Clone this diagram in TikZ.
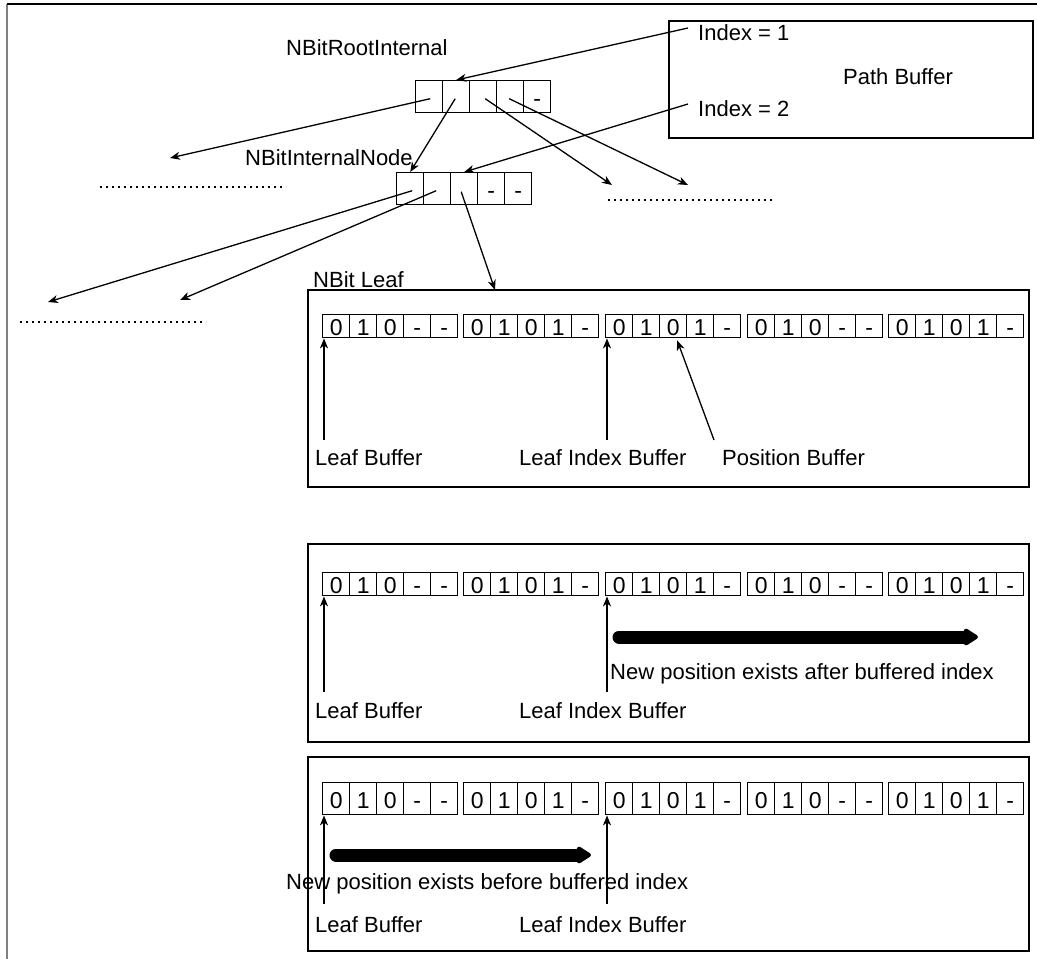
\documentclass[tikz,border=0pt]{standalone}
\usepackage{fontspec}
\setmainfont{Liberation Sans}
\usetikzlibrary{arrows.meta,calc}
\begin{document}
\begin{tikzpicture}[x=1pt,y=-1pt,
  every node/.style={font=\fontsize{22}{25}\selectfont, inner sep=0pt},
  cell/.style={draw, line width=1.4pt, minimum width=27pt, minimum height=#1, anchor=north west, text height=19.5pt, text depth=0pt, font=\fontsize{23}{25}\selectfont},
  cell/.default=23pt,
  lbl/.style={anchor=west},
  thinarrow/.style={line width=1.3pt, -{Stealth[length=10pt,width=8pt,inset=3pt]}},
  frame/.style={draw, line width=1.8pt, anchor=north west},
  bigarrow/.style={line width=13pt, line cap=round, -{Triangle[length=16pt,width=19pt,line width=4pt,round]}},
  dots/.style={line width=1.6pt, dash pattern=on 1.6pt off 4.4pt}
]
\useasboundingbox (0,0) rectangle (1037,959);
% outer frame
\draw[line width=2pt, gray] (7,959) -- (7,4);
\draw[line width=2pt] (7,4) -- (1037,4);

% labels
\node[lbl] (lroot) at (286,48) {NBitRootInternal};
\node[lbl] (lint) at (245,158) {NBitInternalNode};
\node[lbl] (lleaf) at (313,280) {NBit Leaf};

% root internal node
\foreach \i/\t in {1/,2/,3/,4/,5/-}
  \node[cell=32pt] (r\i) at ({415+27*(\i-1)},80) {\t};
% internal node
\foreach \i/\t in {1/,2/,3/,4/-,5/-}
  \node[cell=32pt] (n\i) at ({396+27*(\i-1)},172) {\t};

% path buffer
\node[frame, minimum width=364pt, minimum height=117pt] (pb) at (668,20) {};
\node[lbl] (i1) at (698,33) {Index = 1};
\node (pbt) at (898,77) {Path Buffer};
\node[lbl] (i2) at (698,109) {Index = 2};

% free ends
\coordinate (e1) at (170,158);
\coordinate (e3) at (612,185);
\coordinate (e4) at (688,185);
\coordinate (f1) at (48,302);
\coordinate (f2) at (180,300);
\coordinate (f3) at (495,290);

\draw[thinarrow] ($(i1.west)+(-10,-5)$) -- (r2.north);
\draw[thinarrow] ($(i2.west)+(-10,-5)$) -- (n3.north);
\draw[thinarrow] ($(r1.center)+(1,2)$) -- (e1);
\draw[thinarrow] ($(r2.center)+(-1,2)$) -- (n1.north);
\draw[thinarrow] ($(r3.center)+(2,2)$) -- (e3);
\draw[thinarrow] ($(r4.center)+(-1,2)$) -- (e4);
\draw[thinarrow] ($(n1.center)+(2,2)$) -- (f1);
\draw[thinarrow] ($(n2.center)+(-1,2)$) -- (f2);
\draw[thinarrow] ($(n3.center)+(-3,3)$) -- (f3);

% dotted lines
\coordinate (d1a) at (100,187); \coordinate (d1b) at (286,187);
\coordinate (d2a) at (608,200); \coordinate (d2b) at (774,200);
\coordinate (d3a) at (20,322);  \coordinate (d3b) at (206,322);
\draw[dots] (d1a) -- (d1b);
\draw[dots] (d2a) -- (d2b);
\draw[dots] (d3a) -- (d3b);

% leaf boxes
\draw[line width=1.8pt] (308,290) rectangle (1029,487);
\draw[line width=1.8pt] (308,544) rectangle (1029,742);
\draw[line width=1.8pt] (308,757) rectangle (1029,951);

% leaf rows
\foreach \r/\y/\h in {1/314/23pt,2/572/23pt,3/782/32pt}{
  \foreach \g/\gx/\d in {1/322/-,2/463/1,3/605/1,4/747/-,5/888/1}{
    \node[cell=\h] (c\r\g1) at (\gx,\y) {0};
    \node[cell=\h] (c\r\g2) at (\gx+27,\y) {1};
    \node[cell=\h] (c\r\g3) at (\gx+54,\y) {0};
    \node[cell=\h] (c\r\g4) at (\gx+81,\y) {\d};
    \node[cell=\h] (c\r\g5) at (\gx+108,\y) {-};
  }
}

% box 1 annotations
\coordinate (a1) at (324,440);
\coordinate (b1) at (607,440);
\coordinate (p1) at (714,440);
\draw[thinarrow] (a1) -- (a1 |- c111.south);
\draw[thinarrow] (b1) -- (b1 |- c131.south);
\draw[thinarrow] (p1) -- ($(c133.south)+(4,2)$);
\node[lbl] (lb1) at (315,458) {Leaf Buffer};
\node[lbl] (lib1) at (519,458) {Leaf Index Buffer};
\node[lbl] (pos1) at (722,458) {Position Buffer};

% box 2 annotations
\coordinate (a2) at (324,692);
\coordinate (b2) at (607,692);
\draw[thinarrow] (a2) -- (a2 |- c211.south);
\draw[thinarrow] (b2) -- (b2 |- c231.south);
\coordinate (t2s) at (619,637);
\coordinate (t2e) at (978,637);
\draw[bigarrow] (t2s) -- (t2e);
\node[lbl] (np2) at (610,674) {New position exists after buffered index};
\node[lbl] (lb2) at (315,711) {Leaf Buffer};
\node[lbl] (lib2) at (519,711) {Leaf Index Buffer};

% box 3 annotations
\coordinate (a3) at (324,904);
\coordinate (b3) at (607,904);
\draw[thinarrow] (a3) -- (a3 |- c311.south);
\draw[thinarrow] (b3) -- (b3 |- c331.south);
\coordinate (t3s) at (336,855);
\coordinate (t3e) at (591,855);
\draw[bigarrow] (t3s) -- (t3e);
\node[lbl] (np3) at (286,884) {New position exists before buffered index};
\node[lbl] (lb3) at (315,925) {Leaf Buffer};
\node[lbl] (lib3) at (519,925) {Leaf Index Buffer};
\end{tikzpicture}
\end{document}
